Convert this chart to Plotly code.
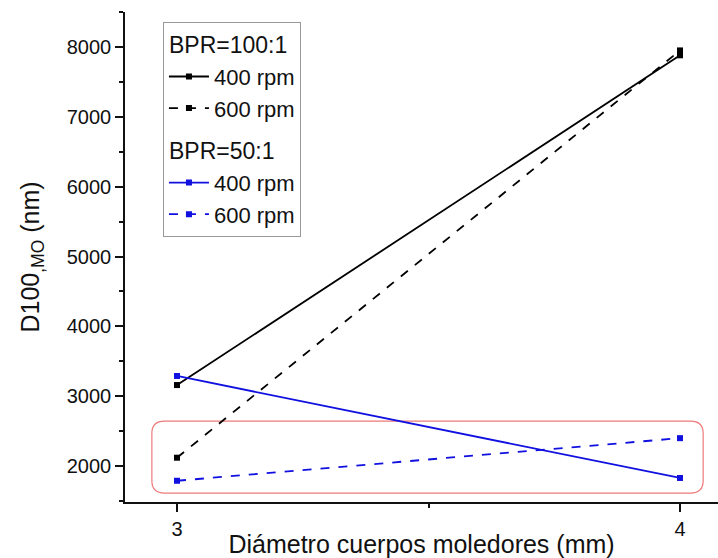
import plotly.graph_objects as go

diam = [3, 4]
bpr100_400 = [3160, 7880]
bpr100_600 = [2120, 7950]
bpr50_400 = [3290, 1830]
bpr50_600 = [1790, 2400]

series = [
    ("BPR=100:1", "400 rpm", bpr100_400, "#000000", "solid", "g100"),
    ("BPR=100:1", "600 rpm", bpr100_600, "#000000", "dash", "g100"),
    ("BPR=50:1", "400 rpm", bpr50_400, "#1010e0", "solid", "g50"),
    ("BPR=50:1", "600 rpm", bpr50_600, "#1010e0", "dash", "g50"),
]

fig = go.Figure()
for gtitle, name, vals, col, dash, grp in series:
    fig.add_trace(go.Scatter(
        x=diam, y=vals, name=name, mode="lines+markers",
        line=dict(color=col, width=1.8, dash=dash),
        marker=dict(symbol="square", size=6, color=col),
        legendgroup=grp, legendgrouptitle=dict(text=gtitle, font=dict(size=23, color="#111")),
    ))

# rounded highlight rectangle (data coords)
x0, x1, y0, y1 = 2.95, 4.046, 1614, 2643
rx, ry = 0.025, 175
path = (f"M {x0+rx},{y0} L {x1-rx},{y0} Q {x1},{y0} {x1},{y0+ry} "
        f"L {x1},{y1-ry} Q {x1},{y1} {x1-rx},{y1} L {x0+rx},{y1} "
        f"Q {x0},{y1} {x0},{y1-ry} L {x0},{y0+ry} Q {x0},{y0} {x0+rx},{y0} Z")
fig.add_shape(type="path", path=path, xref="x", yref="y",
              line=dict(color="#ee7a7a", width=1.2), layer="below")

fig.update_layout(
    width=718, height=558,
    margin=dict(l=125, r=0, t=12, b=56),
    paper_bgcolor="white", plot_bgcolor="white",
    font=dict(family="Liberation Sans, Arial, sans-serif", color="#111"),
    showlegend=True,
    legend=dict(x=0.064, y=0.98, xanchor="left", yanchor="top",
                bgcolor="white", bordercolor="#999", borderwidth=1,
                font=dict(size=22), itemwidth=40, tracegroupgap=10,
                groupclick="toggleitem"),
    xaxis=dict(range=[2.8966, 4.0755], tickvals=[3, 4], ticks="outside",
               ticklen=8, tickwidth=1.5, tickcolor="#111",
               showline=True, linecolor="#111", linewidth=1.5,
               showgrid=False, zeroline=False,
               minor=dict(tickvals=[3.5], ticks="outside", ticklen=4, tickcolor="#111"),
               tickfont=dict(size=20),
               title=dict(text="Diámetro cuerpos moledores (mm)", font=dict(size=25), standoff=0)),
    yaxis=dict(range=[1486, 8500], tickvals=[2000, 3000, 4000, 5000, 6000, 7000, 8000],
               ticks="outside", ticklen=8, tickwidth=1.5, tickcolor="#111",
               showline=True, linecolor="#111", linewidth=1.5,
               showgrid=False, zeroline=False,
               minor=dict(dtick=500, ticks="outside", ticklen=4, tickcolor="#111"),
               tickfont=dict(size=20),
               title=dict(text="D100<sub>,MO</sub> (nm)", font=dict(size=25), standoff=20)),
)

fig.write_html("out.html")
